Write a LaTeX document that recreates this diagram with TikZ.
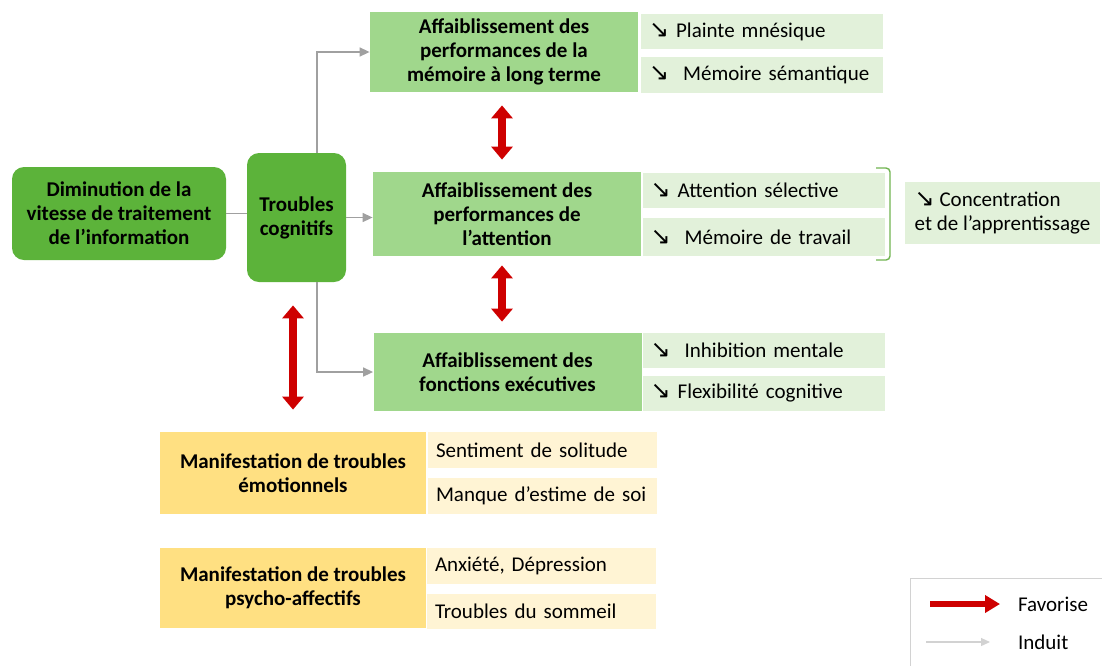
\documentclass[tikz,border=0pt]{standalone}
\usepackage{fontspec}
\setmainfont{Carlito}
\newfontfamily\symfont{DejaVu Sans}
\usepackage{tikz}
\usetikzlibrary{arrows.meta}

\definecolor{dkgreen}{RGB}{92,179,58}
\definecolor{midgreen}{RGB}{160,215,140}
\definecolor{ltgreen}{RGB}{226,241,218}
\definecolor{gold}{RGB}{255,224,130}
\definecolor{ltgold}{RGB}{255,244,212}
\definecolor{favred}{RGB}{206,0,0}
\definecolor{indgray}{RGB}{160,160,160}
\definecolor{legendgray}{RGB}{210,210,210}
\definecolor{bracegreen}{RGB}{112,180,80}

\newcommand{\baisse}{{\symfont\fontsize{12}{12}\selectfont ↘}}

\begin{document}
\begin{tikzpicture}[x=0.5pt,y=-0.5pt,
    font=\fontsize{10.5}{12}\selectfont,
    mainbox/.style={align=center,inner sep=0pt,font=\fontsize{10.5}{12}\selectfont\bfseries},
    sidebox/.style={align=left,inner xsep=4pt,inner ysep=0pt,minimum height=17.5pt},
    favarrow/.style={draw=favred,line width=4pt,{Triangle[length=6.5pt,width=10.5pt]}-{Triangle[length=6.5pt,width=10.5pt]}},
    indarrow/.style={draw=indgray,line width=0.75pt,-{Triangle[length=5pt,width=4.5pt]}}]
\useasboundingbox (0,0) rectangle (1102,665);

% green boxes on the left
\begin{scope}[every node/.style={mainbox,fill=dkgreen,rounded corners=6pt}]
    \node[minimum width=107pt,minimum height=46.5pt] (dim) at (119,213.5) {Diminution de la\\vitesse de traitement\\de l’information};
    \node[minimum width=49.5pt,minimum height=64.5pt] (trb) at (296.5,217.5) {Troubles\\cognitifs};
\end{scope}

% affaiblissements
\begin{scope}[every node/.style={mainbox,fill=midgreen,minimum width=134pt}]
    \node[minimum height=40pt] (mlt) at (504,52) {Affaiblissement des\\performances de la\\mémoire à long terme};
    \node[minimum height=42pt] (att) at (507,214) {Affaiblissement des\\performances de\\l’attention};
    \node[minimum height=39pt] (exe) at (507.5,372) {Affaiblissement des\\fonctions exécutives};
\end{scope}

\begin{scope}[every node/.style={sidebox,fill=ltgreen,text width=113pt}]
    \node (mlt1) at (762,31.5) {\baisse\ Plainte mnésique};
    \node[minimum height=18pt] (mlt2) at (762,75) {\baisse\ \ Mémoire sémantique};
    \node (att1) at (763.5,190.5) {\baisse\ Attention sélective};
    \node[minimum height=19pt] (att2) at (763.5,237) {\baisse\ \ Mémoire de travail};
    \node (exe1) at (763.5,350.5) {\baisse\ \ Inhibition mentale};
    \node (exe2) at (763.5,393.5) {\baisse\ Flexibilité cognitive};
\end{scope}

\node[sidebox,fill=ltgreen,minimum width=97.5pt,minimum height=31pt] (conc) at (1002.5,213) {\baisse\ Concentration\\et de l’apprentissage};
\draw[bracegreen,line width=0.7pt,rounded corners=2pt] (876,168) -- (890,168) -- (890,260) -- (876,260);

% manifestations
\begin{scope}[every node/.style={mainbox,fill=gold,minimum width=133pt}]
    \node[minimum height=41pt] (emo) at (293,473) {Manifestation de troubles\\émotionnels};
    \node[minimum height=40pt] (psy) at (293,588) {Manifestation de troubles\\psycho-affectifs};
\end{scope}

\begin{scope}[every node/.style={sidebox,fill=ltgold,text width=106.5pt}]
    \node[minimum height=18pt] (emo1) at (542.5,450) {Sentiment de solitude};
    \node[minimum height=18pt] (emo2) at (542.5,496) {Manque d’estime de soi};
    \node[minimum height=18pt] (psy1) at (541.5,566) {Anxiété, Dépression};
    \node (psy2) at (541.5,611.5) {Troubles du sommeil};
\end{scope}

% induit
\coordinate (tx) at (317,0);
\draw[draw=indgray,line width=0.75pt] (dim.east) -- (dim.east -| trb.west);
\draw[indarrow] (tx |- trb.north) |- (mlt.west);
\draw[indarrow] (trb.east) -- (trb.east -| att.west);
\draw[indarrow] (tx |- trb.south) |- (exe.west);

% favorise
\draw[favarrow,shorten <=6.5pt,shorten >=6pt] ([xshift=-1pt]mlt.south) -- ([xshift=-1pt]mlt.south |- att.north);
\draw[favarrow,shorten <=4.5pt,shorten >=5.5pt] ([xshift=-2.5pt]att.south) -- ([xshift=-2.5pt]att.south |- exe.north);
\draw[favarrow,shorten <=11pt,shorten >=11.5pt] (emo.north) -- (emo.north |- trb.south);

% legende
\draw[legendgray,line width=0.5pt] (910,578) rectangle (1108,672);
\coordinate (fa) at (930,604);
\coordinate (fb) at (1000,604);
\coordinate (ia) at (926,642);
\coordinate (ib) at (990,642);
\node[anchor=west] (favtxt) at (1011,604) {Favorise};
\node[anchor=west] (indtxt) at (1011,642) {Induit};
\draw[draw=favred,line width=3pt,-{Triangle[length=7.5pt,width=8.5pt]}] (fa) -- (fb);
\draw[draw=legendgray,line width=0.6pt,-{Triangle[length=4.5pt,width=4pt]}] (ia) -- (ib);
\end{tikzpicture}
\end{document}
